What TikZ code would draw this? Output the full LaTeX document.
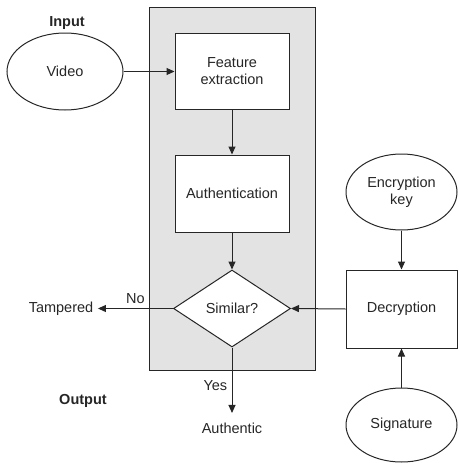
\documentclass[tikz,border=0pt]{standalone}
\usepackage{fontspec}
\setmainfont{Liberation Sans}
\usetikzlibrary{shapes.geometric,arrows.meta}
\begin{document}
\begin{tikzpicture}[x=1pt,y=-1pt,
  font=\fontsize{14.5}{17}\selectfont,
  every node/.style={text=black!85},
  line/.style={draw=black!85,line width=1pt},
  arr/.style={line,-{Triangle[length=8pt,width=7pt]}},
  panel/.style={line,fill=black!11,inner sep=0pt,outer sep=0pt},
  procbox/.style={line,fill=white,rectangle,inner sep=0pt,align=center},
  oval/.style={line,fill=white,ellipse,inner sep=0pt,align=center},
  decide/.style={line,fill=white,diamond,inner sep=0pt,aspect=1.52},
  heading/.style={font=\fontsize{14.5}{17}\selectfont\bfseries}]
\useasboundingbox (0,0) rectangle (458,463);

% shaded processing panel
\node[panel,minimum width=166pt,minimum height=362.5pt] (frame) at (232,188.75) {};

% processing steps
\node[procbox,minimum width=114pt,minimum height=76pt] (feat) at (232,71.5) {Feature\\extraction};
\node[procbox,minimum width=114pt,minimum height=77pt] (auth) at (232,193.5) {Authentication};
\node[decide,minimum width=117pt,minimum height=77pt] (sim) at (232,308.5) {Similar?};

% inputs
\node[heading] (inlbl) at (67,23) {Input};
\node[oval,minimum width=116pt,minimum height=77pt] (video) at (65,71.5) {Video};
\node[oval,minimum width=111pt,minimum height=76pt] (enc) at (401.5,192) {Encryption\\key};
\node[procbox,minimum width=111pt,minimum height=78pt] (dec) at (401.5,309) {Decryption};
\node[oval,minimum width=111pt,minimum height=74pt] (sig) at (401.5,425) {Signature};

% outputs
\node[heading] (outlbl) at (83,401) {Output};
\node[inner sep=4.5pt] (tamp) at (61,308.5) {Tampered};
\node[inner sep=9.5pt] (authc) at (232,428) {Authentic};

% connectors
\draw[arr] (video) -- (feat);
\draw[arr] (feat) -- (auth);
\draw[arr] (auth) -- (sim);
\draw[arr] (enc) -- (dec);
\draw[arr] (sig) -- (dec);
\draw[arr] (dec.west) -- (sim.east);
\draw[arr] (sim.west) -- node[pos=0.5,above=1pt] (nolbl) {No} (tamp.east);
\draw[arr] (sim.south) -- node[pos=0.58,left=1pt] (yeslbl) {Yes} (authc.north);
\end{tikzpicture}
\end{document}
